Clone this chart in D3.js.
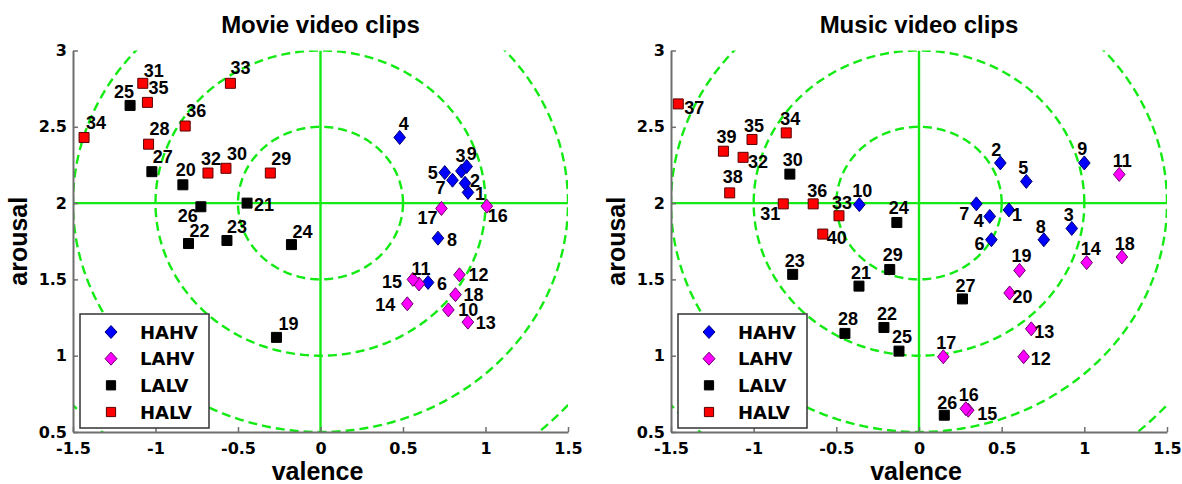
<!DOCTYPE html>
<html>
<head>
<meta charset="utf-8">
<script src="https://cdn.jsdelivr.net/npm/d3@7"></script>
<style>
  body { margin: 0; background: #fff; }
  svg { display: block; }
</style>
</head>
<body>
<svg id="fig" width="1182" height="484"></svg>
<script>
// ---- axis ticks and reference rings ----
const xTicks = [-1.5, -1, -0.5, 0, 0.5, 1, 1.5];
const yTicks = [0.5, 1, 1.5, 2, 2.5, 3];
const ringRadii = [0.5, 1, 1.5, 2];
const quadrants = ["HAHV", "LAHV", "LALV", "HALV"];

// ---- movie clips: mean valence / arousal ----
const movieIds = [1,2,3,4,5,6,7,8,9,10,11,12,13,14,15,16,17,18,19,20,21,22,23,24,25,26,27,28,29,30,31,32,33,34,35,36];
const movieValence = [0.894,0.876,0.854,0.48,0.753,0.652,0.80,0.712,0.886,
                      0.775,0.597,0.842,0.893,0.526,0.56,1.008,0.733,0.818,
                      -0.267,-0.834,-0.445,-0.80,-0.567,-0.176,-1.154,-0.725,-1.022,
                      -1.042,-0.304,-0.573,-1.077,-0.682,-0.546,-1.433,-1.049,-0.82];
const movieArousal = [2.07,2.13,2.21,2.43,2.20,1.48,2.15,1.77,2.24,
                      1.30,1.47,1.53,1.22,1.34,1.50,1.98,1.965,1.40,
                      1.12,2.12,2.0,1.735,1.755,1.728,2.64,1.976,2.206,
                      2.386,2.197,2.228,2.785,2.197,2.785,2.43,2.66,2.505];
const movieQuadrant = ["HAHV","HAHV","HAHV","HAHV","HAHV","HAHV","HAHV","HAHV","HAHV",
                       "LAHV","LAHV","LAHV","LAHV","LAHV","LAHV","LAHV","LAHV","LAHV",
                       "LALV","LALV","LALV","LALV","LALV","LALV","LALV","LALV","LALV",
                       "HALV","HALV","HALV","HALV","HALV","HALV","HALV","HALV","HALV"];

// ---- music clips: mean valence / arousal ----
const musicIds = [1,2,3,4,5,6,7,8,9,10,11,12,13,14,15,16,17,18,19,20,21,22,23,24,25,26,27,28,29,30,31,32,33,34,35,36,37,38,39,40];
const musicValence = [0.544,0.492,0.924,0.428,0.649,0.438,0.347,0.755,1.0,-0.361,
                      1.211,0.633,0.679,1.014,0.298,0.283,0.147,1.227,0.608,0.548,
                      -0.363,-0.212,-0.764,-0.134,-0.121,0.153,0.263,-0.448,-0.177,-0.781,
                      -0.821,-1.064,-0.484,-0.803,-1.01,-0.64,-1.456,-1.145,-1.183,-0.582];
const musicArousal = [1.955,2.263,1.834,1.913,2.142,1.76,1.995,1.76,2.263,1.99,
                      2.188,0.993,1.176,1.61,0.643,0.653,0.993,1.647,1.559,1.411,
                      1.456,1.185,1.533,1.873,1.03,0.61,1.372,1.146,1.565,2.19,
                      1.995,2.30,1.917,2.46,2.417,1.995,2.65,2.067,2.34,1.797];
const musicQuadrant = ["HAHV","HAHV","HAHV","HAHV","HAHV","HAHV","HAHV","HAHV","HAHV","HAHV",
                       "LAHV","LAHV","LAHV","LAHV","LAHV","LAHV","LAHV","LAHV","LAHV","LAHV",
                       "LALV","LALV","LALV","LALV","LALV","LALV","LALV","LALV","LALV","LALV",
                       "HALV","HALV","HALV","HALV","HALV","HALV","HALV","HALV","HALV","HALV"];

// ---- label placement (pixel nudge of each number from its marker) ----
const movieNudge = {
  1:[12,1], 2:[10,-3], 3:[-1,-16], 4:[4,-14], 5:[-12,0], 6:[14,1], 7:[-12,7], 8:[14,1], 9:[5,-13],
  10:[20,0], 11:[2,-15], 12:[19,0], 13:[18,0], 14:[-22,1], 15:[-21,2], 16:[11,9], 17:[-14,9], 18:[18,0],
  19:[12,-14], 20:[3,-15], 21:[17,1], 22:[11,-13], 23:[10,-14], 24:[11,-13], 25:[-6,-14], 26:[-13,9], 27:[11,-15],
  28:[11,-16], 29:[11,-15], 30:[11,-15], 31:[11,-13], 32:[3,-15], 33:[10,-16], 34:[12,-15], 35:[11,-15], 36:[11,-16]
};
const musicNudge = {
  1:[8,5], 2:[-4,-13], 3:[-3,-14], 4:[-11,4], 5:[-3,-14], 6:[-12,4], 7:[-12,10], 8:[-3,-13], 9:[-2,-14], 10:[3,-14],
  11:[3,-14], 12:[17,2], 13:[13,3], 14:[4,-14], 15:[19,3], 16:[3,-14], 17:[3,-14], 18:[3,-13], 19:[2,-15], 20:[13,4],
  21:[2,-14], 22:[3,-14], 23:[2,-14], 24:[2,-15], 25:[3,-15], 26:[3,-13], 27:[3,-13], 28:[3,-15], 29:[3,-15], 30:[3,-15],
  31:[-13,10], 32:[15,4], 33:[3,-13], 34:[4,-14], 35:[2,-14], 36:[4,-13], 37:[16,4], 38:[3,-16], 39:[3,-15], 40:[14,3]
};

// ---- appearance ----
const quadrantStyle = {
  HAHV: { shape: "diamond", fill: "#0000ff", stroke: "#000070" },
  LAHV: { shape: "diamond", fill: "#ff00ff", stroke: "#6a006a" },
  LALV: { shape: "square",  fill: "#000000", stroke: "#000000" },
  HALV: { shape: "square",  fill: "#ff0000", stroke: "#5a0000" }
};
const ringColor = "#13ea13";
const axisGray = "#6e6e6e";
const labelFont = "'Liberation Sans', Arial, sans-serif";
const tickFont = "'DejaVu Sans', sans-serif";

const plotTop = 50.5, plotBottom = 432;
const panels = [
  { title: "Movie video clips", left: 73, right: 568, legendX: 80,
    ids: movieIds, val: movieValence, aro: movieArousal, quad: movieQuadrant, nudge: movieNudge },
  { title: "Music video clips", left: 671, right: 1167, legendX: 678,
    ids: musicIds, val: musicValence, aro: musicArousal, quad: musicQuadrant, nudge: musicNudge }
];

const svg = d3.select("#fig");

function markerPath(shape, legend) {
  if (shape === "diamond") {
    const w = legend ? 6 : 5.8, h = legend ? 6.5 : 7;
    return `M0,${-h}L${w},0L0,${h}L${-w},0Z`;
  }
  const s = legend ? 4.6 : 5;
  return `M${-s},${-s}H${s}V${s}H${-s}Z`;
}

panels.forEach((p, pi) => {
  const x = d3.scaleLinear().domain([-1.5, 1.5]).range([p.left, p.right]);
  const y = d3.scaleLinear().domain([0.5, 3]).range([plotBottom, plotTop]);
  const g = svg.append("g");

  const clipId = "plotclip" + pi;
  svg.append("clipPath").attr("id", clipId)
    .append("rect").attr("x", p.left).attr("y", plotTop)
    .attr("width", p.right - p.left).attr("height", plotBottom - plotTop);

  const inner = g.append("g").attr("clip-path", `url(#${clipId})`);

  // concentric dashed rings around the neutral point (0, 2)
  const angles = d3.range(0, 361, 1).map(a => a * Math.PI / 180);
  const ringLine = d3.line().x(d => x(d[0])).y(d => y(d[1]));
  ringRadii.forEach(r => {
    inner.append("path")
      .attr("d", ringLine(angles.map(t => [r * Math.cos(t), 2 + r * Math.sin(t)])))
      .attr("fill", "none")
      .attr("stroke", ringColor)
      .attr("stroke-width", 2.4)
      .attr("stroke-dasharray", "9,5");
  });

  // solid cross through the neutral point
  inner.append("line")
    .attr("x1", x(-1.5)).attr("x2", x(1.5)).attr("y1", y(2)).attr("y2", y(2))
    .attr("stroke", ringColor).attr("stroke-width", 2.4);
  inner.append("line")
    .attr("x1", x(0)).attr("x2", x(0)).attr("y1", y(0.5)).attr("y2", y(3))
    .attr("stroke", ringColor).attr("stroke-width", 2.4);

  // axes (left and bottom only, ticks pointing inward)
  const xAxis = d3.axisBottom(x).tickValues(xTicks).tickSizeInner(-5).tickSizeOuter(0)
    .tickPadding(11).tickFormat(d => String(d));
  const yAxis = d3.axisLeft(y).tickValues(yTicks).tickSizeInner(-5).tickSizeOuter(0)
    .tickPadding(6).tickFormat(d => String(d));

  const gx = g.append("g").attr("transform", `translate(0,${plotBottom})`).call(xAxis);
  const gy = g.append("g").attr("transform", `translate(${p.left},0)`).call(yAxis);
  [gx, gy].forEach(ax => {
    ax.select(".domain").attr("stroke", axisGray).attr("stroke-width", 2);
    ax.selectAll(".tick line").attr("stroke", axisGray).attr("stroke-width", 1.5);
    ax.selectAll(".tick text")
      .attr("fill", "#000")
      .style("font-family", tickFont)
      .style("font-weight", "bold")
      .style("font-size", "16px");
  });

  // clip markers
  const pts = p.ids.map((id, i) => ({ id, v: p.val[i], a: p.aro[i], q: p.quad[i] }));
  g.append("g").selectAll("path").data(pts).join("path")
    .attr("transform", d => `translate(${x(d.v)},${y(d.a)})`)
    .attr("d", d => markerPath(quadrantStyle[d.q].shape, false))
    .attr("fill", d => quadrantStyle[d.q].fill)
    .attr("stroke", d => quadrantStyle[d.q].stroke)
    .attr("stroke-width", 1);

  // clip numbers
  g.append("g").selectAll("text").data(pts).join("text")
    .attr("x", d => x(d.v) + p.nudge[d.id][0])
    .attr("y", d => y(d.a) + p.nudge[d.id][1])
    .attr("dy", "0.36em")
    .attr("text-anchor", "middle")
    .style("font-family", labelFont)
    .style("font-weight", "bold")
    .style("font-size", "18px")
    .attr("fill", "#000")
    .text(d => d.id);

  // title and axis labels
  const cx = (p.left + p.right) / 2;
  g.append("text").attr("x", cx).attr("y", 33).attr("text-anchor", "middle")
    .style("font-family", labelFont).style("font-weight", "bold").style("font-size", "24px")
    .text(p.title);
  g.append("text").attr("x", cx - 3).attr("y", 480).attr("text-anchor", "middle")
    .style("font-family", labelFont).style("font-weight", "bold").style("font-size", "25px")
    .text("valence");
  g.append("text")
    .attr("transform", `translate(${p.left - 46},${(plotTop + plotBottom) / 2}) rotate(-90)`)
    .attr("text-anchor", "middle")
    .style("font-family", labelFont).style("font-weight", "bold").style("font-size", "25px")
    .text("arousal");

  // legend
  const lg = g.append("g").attr("transform", `translate(${p.legendX},314)`);
  lg.append("rect").attr("width", 129).attr("height", 114)
    .attr("fill", "#fff").attr("stroke", "#333").attr("stroke-width", 1.5);
  const rowY = d3.scalePoint().domain(quadrants).range([18, 98]);
  quadrants.forEach(q => {
    lg.append("path")
      .attr("transform", `translate(31,${rowY(q)})`)
      .attr("d", markerPath(quadrantStyle[q].shape, true))
      .attr("fill", quadrantStyle[q].fill)
      .attr("stroke", quadrantStyle[q].stroke)
      .attr("stroke-width", 1);
    lg.append("text").attr("x", 60).attr("y", rowY(q) + 6.5)
      .style("font-family", tickFont).style("font-weight", "bold").style("font-size", "18px")
      .text(q);
  });
});
</script>
</body>
</html>
